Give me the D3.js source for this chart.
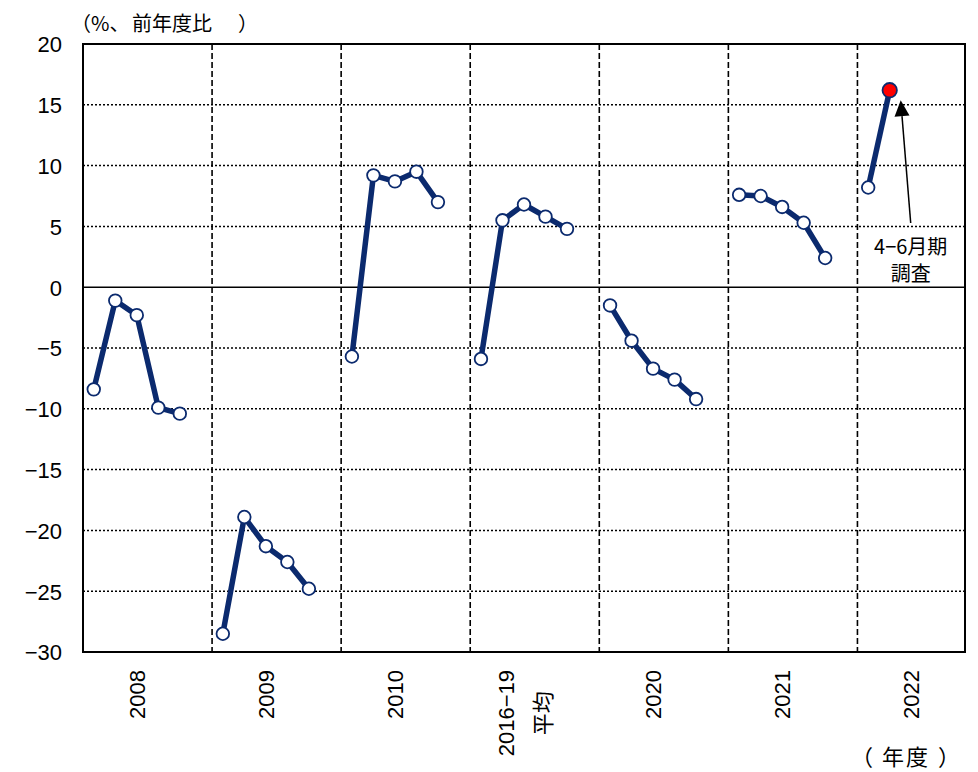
<!DOCTYPE html>
<html><head><meta charset="utf-8">
<script src="https://cdn.jsdelivr.net/npm/d3@7"></script>
<style>
html,body{margin:0;padding:0;background:#fff;}
svg{text-spacing-trim:space-all;}
text{font-family:"Liberation Sans","Noto Sans CJK JP",sans-serif;fill:#000;text-spacing-trim:space-all;}
.cjk{font-family:"Noto Sans CJK JP",sans-serif;}
</style></head>
<body>
<svg id="chart" width="978" height="772"></svg>
<script>
// ---- data ----
const categories = ["2008", "2009", "2010", "2016−19\n平均", "2020", "2021", "2022"];
const v2008 = [-8.4, -1.1, -2.3, -9.9, -10.4];
const v2009 = [-28.5, -18.9, -21.3, -22.6, -24.8];
const v2010 = [-5.7, 9.2, 8.7, 9.5, 7.0];
const vAvg  = [-5.9, 5.5, 6.8, 5.8, 4.8];
const v2020 = [-1.5, -4.4, -6.7, -7.6, -9.2];
const v2021 = [7.6, 7.5, 6.6, 5.3, 2.4];
const v2022 = [8.2, 16.2];
const groups = [v2008, v2009, v2010, vAvg, v2020, v2021, v2022];
const yTicks = [20, 15, 10, 5, 0, -5, -10, -15, -20, -25, -30];
const yTitleParts = ["（%、", "前年度比", "）"];
const xTitleParts = ["（", "年", "度", "）"];
const annotLines = ["4−6月期", "調査"];

// ---- layout ----
const svg = d3.select("#chart");
const L = 83, R = 965, T = 44, B = 652;
const slotsPerGroup = 6;
const nSlots = slotsPerGroup * (groups.length - 1) + 5;
const x = d3.scaleBand().domain(d3.range(nSlots)).range([L, R]).paddingInner(0).paddingOuter(0);
const bw = x.bandwidth();
const y = d3.scaleLinear().domain([-30, 20]).range([B, T]);
const navy = "#0b2a6e";

// horizontal dotted grid
svg.append("g").selectAll("line").data(yTicks.filter(d => d !== 0 && d !== 20 && d !== -30)).join("line")
  .attr("x1", L).attr("x2", R).attr("y1", d => y(d)).attr("y2", d => y(d))
  .attr("stroke", "#000").attr("stroke-width", 1.5).attr("stroke-dasharray", "2,2");

// zero line
svg.append("line").attr("x1", L).attr("x2", R).attr("y1", y(0)).attr("y2", y(0))
  .attr("stroke", "#000").attr("stroke-width", 1.5);

// vertical dashed separators
const seps = d3.range(1, groups.length).map(g => g * slotsPerGroup);
svg.append("g").selectAll("line").data(seps).join("line")
  .attr("x1", d => x(d)).attr("x2", d => x(d)).attr("y1", T).attr("y2", B)
  .attr("stroke", "#000").attr("stroke-width", 1.6).attr("stroke-dasharray", "6,3");

// frame
svg.append("rect").attr("x", L).attr("y", T).attr("width", R - L).attr("height", B - T)
  .attr("fill", "none").attr("stroke", "#000").attr("stroke-width", 2);

// y axis labels
const yAxis = d3.axisLeft(y).tickValues(yTicks).tickSize(0).tickPadding(0);
const ga = svg.append("g").attr("transform", `translate(${L - 21},0)`).call(yAxis);
ga.select(".domain").remove();
ga.selectAll("text").attr("font-size", 22).attr("font-family", null).attr("dy", "0.36em");

// titles
const tt = svg.append("text").attr("class", "cjk").attr("y", 31).attr("font-size", 20);
const tX = [71, 132, 238];
yTitleParts.forEach((p, i) => tt.append("tspan").attr("x", tX[i]).text(p));
const xt = svg.append("text").attr("class", "cjk").attr("y", 765).attr("font-size", 22);
const xX = [851, 882, 906, 938];
xTitleParts.forEach((p, i) => xt.append("tspan").attr("x", xX[i]).text(p));

// category labels (rotated)
categories.forEach((c, g) => {
  const cx = x(g * slotsPerGroup + 2) + bw / 2;
  const lines = c.split("\n");
  const gg = svg.append("g");
  const texts = lines.map((ln, i) => gg.append("text").attr("font-size", 22).text(ln));
  const maxLen = d3.max(texts, t => t.node().getComputedTextLength());
  const lh = 37;
  const n = lines.length;
  texts.forEach((t, i) => {
    const lx = cx + 8 + (i - (n - 1) / 2) * lh;
    const ly = 670 + maxLen / 2;
    t.attr("text-anchor", "middle")
     .attr("transform", `translate(${lx},${ly}) rotate(-90)`);
  });
});

// series lines and markers
const plot = svg.append("g");
groups.forEach((vals, g) => {
  const pts = vals.map((v, i) => ({ sx: x(g * slotsPerGroup + i) + bw / 2, v }));
  plot.append("path").datum(pts)
    .attr("d", d3.line().x(d => d.sx).y(d => y(d.v)))
    .attr("fill", "none").attr("stroke", navy).attr("stroke-width", 5.5).attr("stroke-linejoin", "round");
});
groups.forEach((vals, g) => {
  const last = g === groups.length - 1;
  plot.append("g").selectAll("circle").data(vals.map((v, i) => ({ sx: x(g * slotsPerGroup + i) + bw / 2, v, i }))).join("circle")
    .attr("cx", d => d.sx).attr("cy", d => y(d.v))
    .attr("r", d => (last && d.i === vals.length - 1) ? 7.2 : 6.3)
    .attr("fill", d => (last && d.i === vals.length - 1) ? "#ff0000" : "#fff")
    .attr("stroke", navy).attr("stroke-width", 1.8);
});

// annotation arrow
const lastX = x((groups.length - 1) * slotsPerGroup + 1) + bw / 2;
const tipX = lastX + 11, tipY = y(v2022[1]) + 10;
const baseX = lastX + 21, baseY = 223;
const ang = Math.atan2(tipY - baseY, tipX - baseX);
const hl = 16, hw = 7.5;
const hx = tipX - hl * Math.cos(ang), hy = tipY - hl * Math.sin(ang);
svg.append("line").attr("x1", baseX).attr("y1", baseY).attr("x2", hx).attr("y2", hy)
  .attr("stroke", "#000").attr("stroke-width", 1.5);
svg.append("path")
  .attr("d", `M${tipX},${tipY} L${hx + hw * Math.sin(ang)},${hy - hw * Math.cos(ang)} L${hx - hw * Math.sin(ang)},${hy + hw * Math.cos(ang)} Z`)
  .attr("fill", "#000");
const at = svg.append("text").attr("class", "cjk").attr("text-anchor", "middle").attr("font-size", 20);
annotLines.forEach((t, i) => {
  at.append("tspan").attr("x", baseX).attr("y", 254 + i * 27).text(t);
});
</script>
</body></html>
